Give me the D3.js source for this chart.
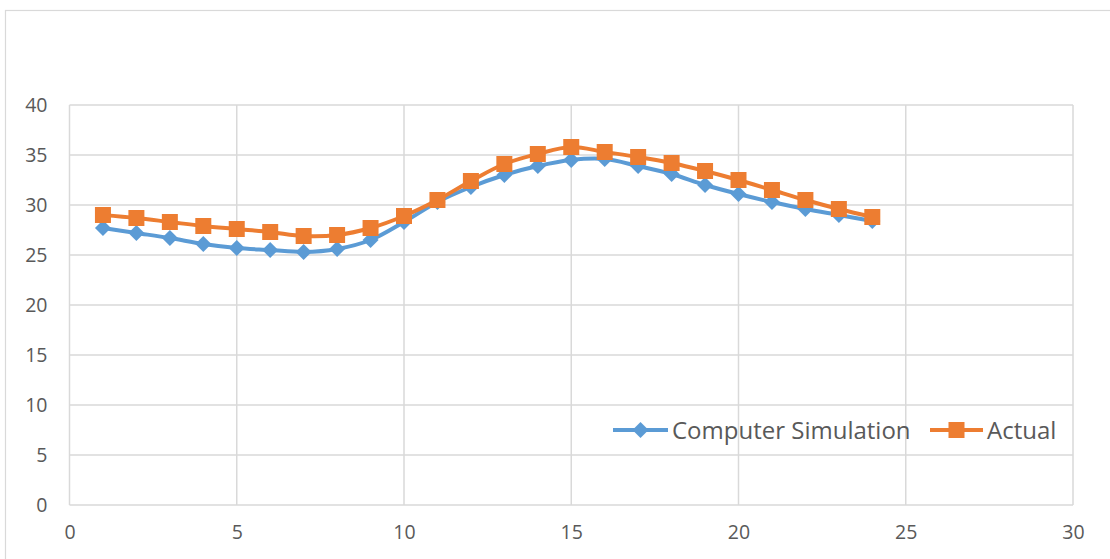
<!DOCTYPE html>
<html><head><meta charset="utf-8">
<script src="https://cdn.jsdelivr.net/npm/d3@7"></script>
<style>body{margin:0;background:#fff;} svg{display:block;font-family:"Open Sans","Noto Sans",sans-serif;}</style>
</head><body>
<script>
const xValues = [1,2,3,4,5,6,7,8,9,10,11,12,13,14,15,16,17,18,19,20,21,22,23,24];
const simulation = [27.7,27.2,26.7,26.1,25.7,25.5,25.3,25.6,26.5,28.3,30.3,31.8,33.0,33.9,34.5,34.6,33.9,33.1,32.0,31.1,30.3,29.6,29.0,28.4];
const actual = [29.0,28.7,28.3,27.9,27.6,27.3,26.9,27.0,27.7,28.9,30.5,32.4,34.1,35.1,35.8,35.3,34.8,34.2,33.4,32.5,31.5,30.5,29.6,28.8];
const xTicks = [0,5,10,15,20,25,30];
const yTicks = [0,5,10,15,20,25,30,35,40];
const seriesNames = ["Computer Simulation","Actual"];

const W=1110,H=559;
const svg=d3.select("body").append("svg").attr("width",W).attr("height",H);
svg.append("rect").attr("x",5.5).attr("y",10.5).attr("width",W).attr("height",H).attr("fill","#fff").attr("stroke","#d9d9d9").attr("stroke-width",1.2);

const x=d3.scaleLinear().domain([0,30]).range([69.5,1073]);
const y=d3.scaleLinear().domain([0,40]).range([505,105]);
const grid="#d9d9d9";
svg.append("g").selectAll("line").data(yTicks).join("line")
  .attr("x1",x(0)).attr("x2",x(30)).attr("y1",d=>y(d)).attr("y2",d=>y(d))
  .attr("stroke",grid).attr("stroke-width",1.5);
svg.append("g").selectAll("line").data(xTicks).join("line")
  .attr("y1",y(0)).attr("y2",y(40)).attr("x1",d=>x(d)).attr("x2",d=>x(d))
  .attr("stroke",grid).attr("stroke-width",1.5);

const yAxis=d3.axisLeft(y).tickValues(yTicks).tickSize(0).tickPadding(22);
const gy=svg.append("g").attr("transform",`translate(${x(0)},0)`).call(yAxis);
const xAxis=d3.axisBottom(x).tickValues(xTicks).tickSize(0).tickPadding(20);
const gx=svg.append("g").attr("transform",`translate(0,${y(0)})`).call(xAxis);
[gx,gy].forEach(g=>{g.select(".domain").remove();g.selectAll("text").attr("fill","#595959").style("font-size","19.5px").style("font-family","'Open Sans','Noto Sans',sans-serif");});

const line=d3.line().x((d,i)=>x(xValues[i])).y(d=>y(d)).curve(d3.curveCatmullRom.alpha(0.5));
const colors=["#5B9BD5","#ED7D31"];
const diamond=(g,cx,cy)=>g.append("path").attr("d",`M${cx},${cy-8}L${cx+8},${cy}L${cx},${cy+8}L${cx-8},${cy}Z`).attr("fill",colors[0]);
const square=(g,cx,cy)=>g.append("rect").attr("x",cx-8).attr("y",cy-8).attr("width",16).attr("height",16).attr("fill",colors[1]);

const g0=svg.append("g");
g0.append("path").attr("d",line(simulation)).attr("fill","none").attr("stroke",colors[0]).attr("stroke-width",4).attr("stroke-linejoin","round");
simulation.forEach((v,i)=>diamond(g0,x(xValues[i]),y(v)));
const g1=svg.append("g");
g1.append("path").attr("d",line(actual)).attr("fill","none").attr("stroke",colors[1]).attr("stroke-width",4).attr("stroke-linejoin","round");
actual.forEach((v,i)=>square(g1,x(xValues[i]),y(v)));

// legend
const lg=svg.append("g");
const ly=430;
lg.append("line").attr("x1",613).attr("x2",668).attr("y1",ly).attr("y2",ly).attr("stroke",colors[0]).attr("stroke-width",4);
diamond(lg,640.5,ly);
lg.append("text").attr("x",672).attr("y",ly).attr("dy","0.36em").text(seriesNames[0]).attr("fill","#595959").style("font-size","24px");
lg.append("line").attr("x1",930).attr("x2",983).attr("y1",ly).attr("y2",ly).attr("stroke",colors[1]).attr("stroke-width",4);
square(lg,956.5,ly);
lg.append("text").attr("x",987).attr("y",ly).attr("dy","0.36em").text(seriesNames[1]).attr("fill","#595959").style("font-size","24px");
</script>
</body></html>
